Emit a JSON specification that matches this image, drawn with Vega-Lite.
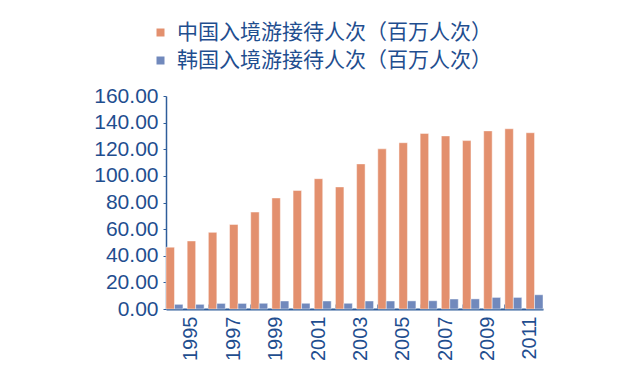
{
  "$schema": "https://vega.github.io/schema/vega-lite/v6.json",
  "width": 377,
  "height": 213,
  "autosize": {"type": "none"},
  "padding": {"left": 166, "top": 96, "right": 78, "bottom": 71},
  "background": "white",
  "config": {"view": {"stroke": null}, "font": "Liberation Sans"},
  "data": {"values": [
    {"year": "1995", "series": "中国入境游接待人次（百万人次）", "value": 46.4},
    {"year": "1996", "series": "中国入境游接待人次（百万人次）", "value": 51.1},
    {"year": "1997", "series": "中国入境游接待人次（百万人次）", "value": 57.6},
    {"year": "1998", "series": "中国入境游接待人次（百万人次）", "value": 63.5},
    {"year": "1999", "series": "中国入境游接待人次（百万人次）", "value": 72.8},
    {"year": "2000", "series": "中国入境游接待人次（百万人次）", "value": 83.4},
    {"year": "2001", "series": "中国入境游接待人次（百万人次）", "value": 89.0},
    {"year": "2002", "series": "中国入境游接待人次（百万人次）", "value": 97.9},
    {"year": "2003", "series": "中国入境游接待人次（百万人次）", "value": 91.7},
    {"year": "2004", "series": "中国入境游接待人次（百万人次）", "value": 109.0},
    {"year": "2005", "series": "中国入境游接待人次（百万人次）", "value": 120.3},
    {"year": "2006", "series": "中国入境游接待人次（百万人次）", "value": 124.9},
    {"year": "2007", "series": "中国入境游接待人次（百万人次）", "value": 131.9},
    {"year": "2008", "series": "中国入境游接待人次（百万人次）", "value": 130.0},
    {"year": "2009", "series": "中国入境游接待人次（百万人次）", "value": 126.5},
    {"year": "2010", "series": "中国入境游接待人次（百万人次）", "value": 133.8},
    {"year": "2011", "series": "中国入境游接待人次（百万人次）", "value": 135.4},
    {"year": "2012", "series": "中国入境游接待人次（百万人次）", "value": 132.4},
    {"year": "1995", "series": "韩国入境游接待人次（百万人次）", "value": 3.5},
    {"year": "1996", "series": "韩国入境游接待人次（百万人次）", "value": 3.5},
    {"year": "1997", "series": "韩国入境游接待人次（百万人次）", "value": 4.2},
    {"year": "1998", "series": "韩国入境游接待人次（百万人次）", "value": 4.2},
    {"year": "1999", "series": "韩国入境游接待人次（百万人次）", "value": 4.3},
    {"year": "2000", "series": "韩国入境游接待人次（百万人次）", "value": 6.0},
    {"year": "2001", "series": "韩国入境游接待人次（百万人次）", "value": 4.3},
    {"year": "2002", "series": "韩国入境游接待人次（百万人次）", "value": 6.0},
    {"year": "2003", "series": "韩国入境游接待人次（百万人次）", "value": 4.3},
    {"year": "2004", "series": "韩国入境游接待人次（百万人次）", "value": 6.0},
    {"year": "2005", "series": "韩国入境游接待人次（百万人次）", "value": 6.0},
    {"year": "2006", "series": "韩国入境游接待人次（百万人次）", "value": 6.1},
    {"year": "2007", "series": "韩国入境游接待人次（百万人次）", "value": 6.2},
    {"year": "2008", "series": "韩国入境游接待人次（百万人次）", "value": 7.5},
    {"year": "2009", "series": "韩国入境游接待人次（百万人次）", "value": 7.6},
    {"year": "2010", "series": "韩国入境游接待人次（百万人次）", "value": 8.7},
    {"year": "2011", "series": "韩国入境游接待人次（百万人次）", "value": 8.7},
    {"year": "2012", "series": "韩国入境游接待人次（百万人次）", "value": 10.7}
  ]},
  "mark": {"type": "bar", "stroke": "white", "strokeOpacity": 0.45, "strokeWidth": 1},
  "encoding": {
    "x": {
      "field": "year", "type": "ordinal",
      "scale": {"paddingInner": 0.2, "paddingOuter": 0},
      "axis": {
        "title": null,
        "values": ["1995", "1997", "1999", "2001", "2003", "2005", "2007", "2009", "2011"],
        "bandPosition": 0,
        "labelOffset": 17,
        "labelAngle": -90,
        "labelFontSize": 20,
        "labelColor": "#1F4E8F",
        "labelPadding": 12,
        "tickSize": -5,
        "tickColor": "#2E5D9A",
        "domainColor": "#2E5D9A",
        "domainWidth": 2
      }
    },
    "xOffset": {"field": "series", "type": "nominal", "sort": ["中国入境游接待人次（百万人次）", "韩国入境游接待人次（百万人次）"]},
    "y": {
      "field": "value", "type": "quantitative",
      "scale": {"domain": [0, 160], "nice": false},
      "axis": {
        "title": null,
        "values": [0, 20, 40, 60, 80, 100, 120, 140, 160],
        "format": ".2f",
        "grid": false,
        "labelFontSize": 21,
        "labelColor": "#1F4E8F",
        "labelPadding": 5,
        "tickSize": 3,
        "tickColor": "#2E5D9A",
        "domainColor": "#2E5D9A",
        "domainWidth": 1.5
      }
    },
    "color": {
      "field": "series", "type": "nominal",
      "scale": {"domain": ["中国入境游接待人次（百万人次）", "韩国入境游接待人次（百万人次）"], "range": ["#E3906E", "#7189BC"]},
      "legend": {
        "title": null,
        "orient": "none",
        "legendX": -16,
        "legendY": -74,
        "direction": "vertical",
        "symbolType": "square",
        "symbolSize": 64,
        "symbolStrokeWidth": 0,
        "labelFont": "Noto Sans CJK SC",
        "labelFontSize": 21,
        "labelColor": "#1F4E8F",
        "labelOffset": 6,
        "labelLimit": 400,
        "rowPadding": 6
      }
    }
  }
}
